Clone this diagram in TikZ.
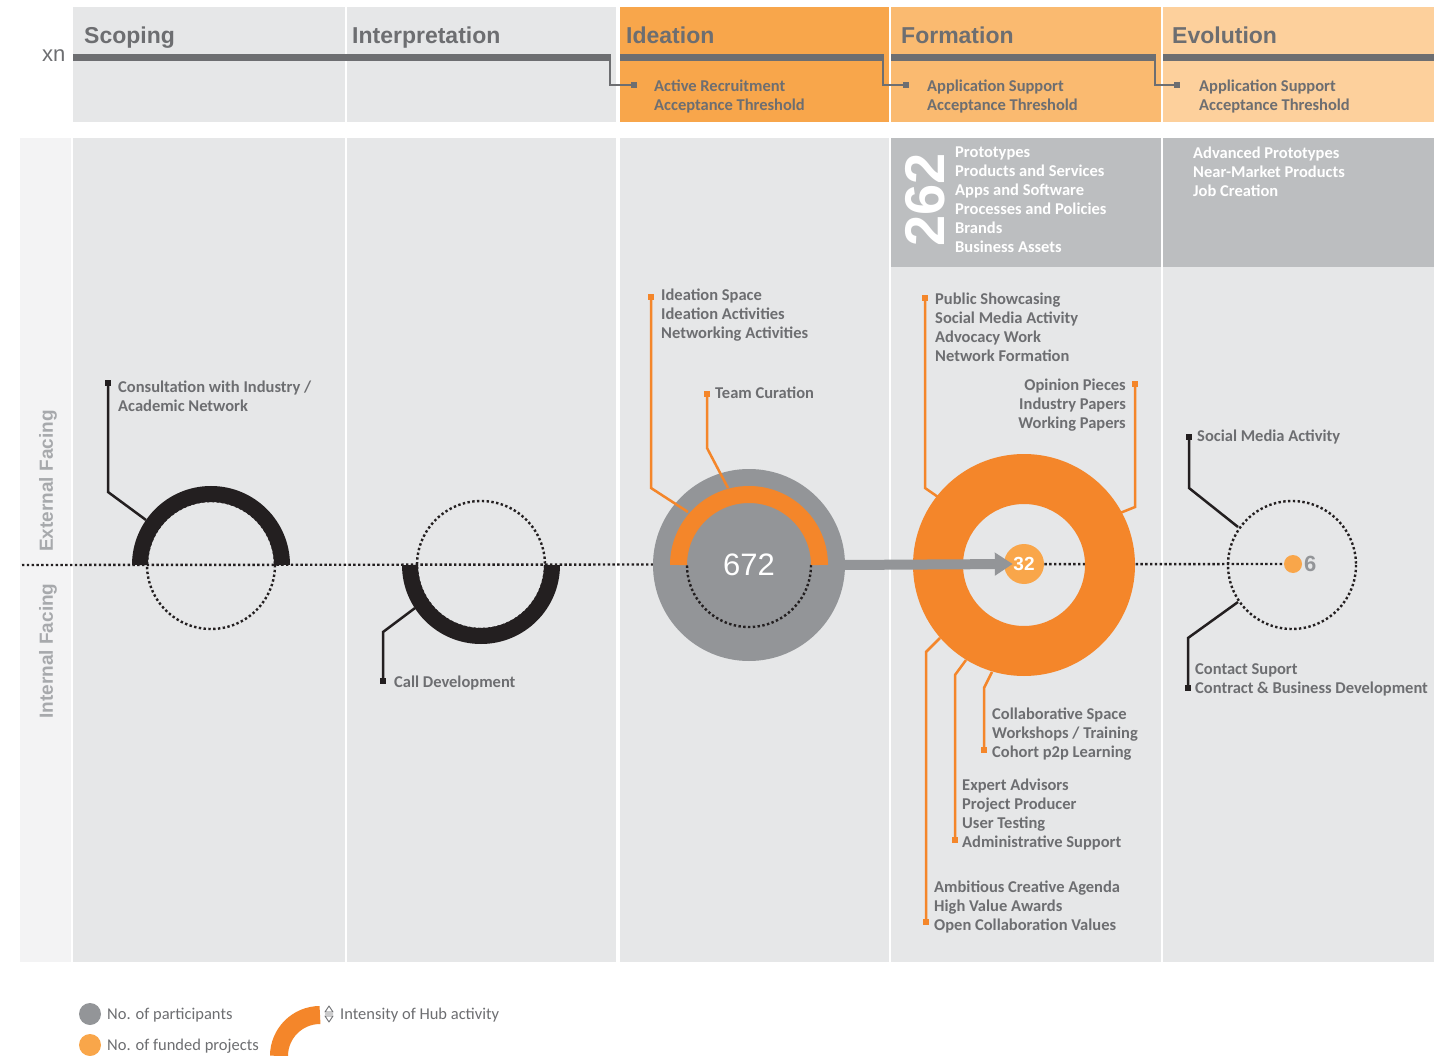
\documentclass[tikz,border=0pt]{standalone}
\usepackage{fontspec}
\setmainfont{Carlito}
\newfontfamily\hfont{Liberation Sans}
\usetikzlibrary{arrows.meta,calc}
\definecolor{tg}{HTML}{6D6E71}
\definecolor{lgc}{HTML}{E6E7E8}
\definecolor{lc}{HTML}{F3F3F4}
\definecolor{bgc}{HTML}{BCBEC0}
\definecolor{mg}{HTML}{939598}
\definecolor{og}{HTML}{F4862A}
\definecolor{od}{HTML}{F9A64A}
\definecolor{hI}{HTML}{F8A64B}
\definecolor{hF}{HTML}{FABA70}
\definecolor{hE}{HTML}{FDD09C}
\definecolor{bk}{HTML}{231F20}
\definecolor{vl}{HTML}{A7A9AC}
\begin{document}
\begin{tikzpicture}[x=1pt,y=-1pt,
  lbl/.style={font=\fontsize{16.5}{19}\selectfont\bfseries, text=tg, align=left, inner sep=0pt, anchor=north west},
  rlbl/.style={lbl, align=right, anchor=north east},
  wl/.style={lbl, text=white},
  ttl/.style={font=\hfont\fontsize{23}{27}\selectfont\bfseries, text=tg, inner sep=0pt, anchor=base west},
  side/.style={font=\hfont\fontsize{19}{22}\selectfont\bfseries, text=vl, rotate=90, inner sep=0pt},
  legtxt/.style={font=\fontsize{16.5}{19}\selectfont, text=tg, inner sep=0pt, anchor=west},
  conn/.style={draw=bk, line width=2.5pt},
  oconn/.style={draw=og, line width=2.5pt},
  hlink/.style={draw=tg, line width=2pt},
  mk/.style={fill=bk, minimum size=6pt, inner sep=0pt},
  omk/.style={fill=og, minimum size=6pt, inner sep=0pt},
  hmk/.style={fill=tg, minimum size=6pt, inner sep=0pt},
  dots/.style={draw=bk, line width=2.4pt, dash pattern=on 2.4pt off 2.4pt},
  bar/.style={draw=tg, line width=7pt},
  halfarc/.style={line width=16pt},
]
\useasboundingbox (0,0) rectangle (1446,1056);
\fill[white] (0,0) rectangle (1446,1056);
% ---------- header row
\fill[lgc] (73,7) rectangle (345,122);
\fill[lgc] (347,7) rectangle (616,122);
\fill[hI] (620,7) rectangle (889,122);
\fill[hF] (891,7) rectangle (1161,122);
\fill[hE] (1163,7) rectangle (1434,122);
% ---------- body columns
\fill[lc] (20,138) rectangle (71,962);
\fill[lgc] (73,138) rectangle (345,962);
\fill[lgc] (347,138) rectangle (616,962);
\fill[lgc] (620,138) rectangle (889,962);
\fill[lgc] (891,138) rectangle (1161,962);
\fill[lgc] (1163,138) rectangle (1434,962);
\fill[bgc] (891,138) rectangle (1161,267);
\fill[bgc] (1163,138) rectangle (1434,267);
% ---------- header titles and bars
\node[font=\hfont\fontsize{22}{26}\selectfont, text=tg, inner sep=0pt, anchor=base west] (xn) at (42,62) {xn};
\node[ttl] (tS) at (84,44) {Scoping};
\node[ttl] (tI) at (352,44) {Interpretation};
\node[ttl] (tD) at (626,44) {Ideation};
\node[ttl] (tF) at (901,44) {Formation};
\node[ttl] (tE) at (1172,44) {Evolution};
\draw[bar] (73,57.5) -- (611,57.5);
\draw[bar] (620,57.5) -- (884,57.5);
\draw[bar] (891,57.5) -- (1156,57.5);
\draw[bar] (1163,57.5) -- (1434,57.5);
\node[hmk] (hm1) at (634,85) {};
\node[hmk] (hm2) at (906,85) {};
\node[hmk] (hm3) at (1177,85) {};
\coordinate (hb1) at (610,58);
\coordinate (hb2) at (883,58);
\coordinate (hb3) at (1155,58);
\draw[hlink] (hb1) |- (hm1);
\draw[hlink] (hb2) |- (hm2);
\draw[hlink] (hb3) |- (hm3);
\node[lbl] (h1) at (654,80) {Active Recruitment\\Acceptance Threshold};
\node[lbl] (h2) at (927,80) {Application Support\\Acceptance Threshold};
\node[lbl] (h3) at (1199,80) {Application Support\\Acceptance Threshold};
% ---------- side labels
\node[side] (ext) at (48,481) {External Facing};
\node[side] (int) at (48,651) {Internal Facing};
% ---------- output boxes
\node[font=\hfont\fontsize{56}{60}\selectfont\bfseries, text=white, rotate=90, inner sep=0pt] (n262) at (925,200) {262};
\node[wl] (o1) at (955,147) {Prototypes\\Products and Services\\Apps and Software\\Processes and Policies\\Brands\\Business Assets};
\node[wl] (o2) at (1193,147) {Advanced Prototypes\\Near-Market Products\\Job Creation};
% ---------- centres
\coordinate (cS) at (211,565);
\coordinate (cI) at (481,565);
\coordinate (cF) at (1024,565);
\coordinate (cE) at (1292,565);
\coordinate (lstart) at (22,565);
% evolution dot first, so the axis can end on it
\node[circle, fill=od, minimum size=18pt, inner sep=0pt] (d6) at (1293,564) {};
\node[font=\hfont\fontsize{22}{24}\selectfont\bfseries, text=mg, inner sep=0pt, anchor=west] (t6) at (1304,564) {6};
% axis
\draw[dots] (lstart) -- (d6.west);
% Scoping
\draw[dots] (cS) circle (64);
\draw[bk, halfarc] ($(cS)+(180:71)$) arc[start angle=180, end angle=360, radius=71];
% Interpretation
\draw[dots] (cI) circle (64);
\draw[bk, halfarc] ($(cI)+(0:71)$) arc[start angle=0, end angle=180, radius=71];
% Ideation
\node[circle, fill=mg, minimum size=192pt, inner sep=0pt, text=white, font=\hfont\fontsize{31}{34}\selectfont] (gD) at (749,565) {672};
\draw[dots] ([shift={(0:62)}]gD.center) arc[start angle=0, end angle=180, radius=62];
\draw[og, line width=17pt] ([shift={(180:70.5)}]gD.center) arc[start angle=180, end angle=360, radius=70.5];
% Formation
\fill[og, even odd rule] (cF) circle (111) circle (61);
\node[circle, fill=od, minimum size=40pt, inner sep=0pt, text=white, font=\hfont\fontsize{19}{21}\selectfont\bfseries] (n32) at (1024,564) {32};
\draw[mg, line width=10pt, -{Triangle[length=18pt,width=22pt]}] ([xshift=-4pt]gD.east) -- ([xshift=9pt]n32.west);
% Evolution
\draw[dots] (cE) circle (64);
% ---------- connectors and labels
% Scoping
\node[mk] (mS) at (108,383) {};
\coordinate (aS) at (146,520);
\draw[conn] (mS.center) -- (108,492) -- (aS);
\node[lbl] (lS) at (118,381) {Consultation with Industry /\\Academic Network};
% Interpretation
\node[mk] (mI) at (383,681) {};
\coordinate (aI) at (415,608);
\draw[conn] (mI.center) -- (383,632) -- (aI);
\node[lbl] (lI) at (394,676) {Call Development};
% Ideation
\node[omk] (mD1) at (651,297) {};
\coordinate (aD1) at (688,512);
\draw[oconn] (mD1.center) -- (651,488) -- (aD1);
\node[lbl] (lD1) at (661,289) {Ideation Space\\Ideation Activities\\Networking Activities};
\node[omk] (mD2) at (707,394) {};
\coordinate (aD2) at (728,488);
\draw[oconn] (mD2.center) -- (707,448) -- (aD2);
\node[lbl] (lD2) at (715,387) {Team Curation};
% Formation
\node[omk] (mF1) at (925,298) {};
\coordinate (aF1) at (938,497);
\draw[oconn] (mF1.center) -- (925,488) -- (aF1);
\node[lbl] (lF1) at (935,293) {Public Showcasing\\Social Media Activity\\Advocacy Work\\Network Formation};
\node[omk] (mF2) at (1135,384) {};
\coordinate (aF2) at (1120,513);
\draw[oconn] (mF2.center) -- (1135,507) -- (aF2);
\node[rlbl] (lF2) at (1126,379) {Opinion Pieces\\Industry Papers\\Working Papers};
\node[omk] (mF3) at (984,750) {};
\coordinate (aF3) at (992,672);
\draw[oconn] (mF3.center) -- (984,688) -- (aF3);
\node[lbl] (lF3) at (992,708) {Collaborative Space\\Workshops / Training\\Cohort p2p Learning};
\node[omk] (mF4) at (955,840) {};
\coordinate (aF4) at (966,660);
\draw[oconn] (mF4.center) -- (955,675) -- (aF4);
\node[lbl] (lF4) at (962,779) {Expert Advisors\\Project Producer\\User Testing\\Administrative Support};
\node[omk] (mF5) at (926,922) {};
\coordinate (aF5) at (940,638);
\draw[oconn] (mF5.center) -- (926,652) -- (aF5);
\node[lbl] (lF5) at (934,881) {Ambitious Creative Agenda\\High Value Awards\\Open Collaboration Values};
% Evolution
\node[mk] (mE1) at (1189,437) {};
\coordinate (aE1) at (1238,527);
\draw[conn] (mE1.center) -- (1189,488) -- (aE1);
\node[lbl] (lE1) at (1197,430) {Social Media Activity};
\node[mk] (mE2) at (1188,688) {};
\coordinate (aE2) at (1238,602);
\draw[conn] (mE2.center) -- (1188,638) -- (aE2);
\node[lbl] (lE2) at (1195,663) {Contact Suport\\Contract \& Business Development};
% ---------- legend
\node[circle, fill=mg, minimum size=22pt, inner sep=0pt] (lg1) at (90,1014) {};
\node[legtxt] (lt1) at (107,1015) {No. of participants};
\node[circle, fill=od, minimum size=22pt, inner sep=0pt] (lg2) at (90,1045) {};
\node[legtxt] (lt2) at (107,1046) {No. of funded projects};
\coordinate (lgc) at (320,1056);
\draw[og, line width=18pt] ([shift={(180:41)}]lgc) arc[start angle=180, end angle=270, radius=41];
\coordinate (sym) at (329,1014);
\draw[tg, line width=0.9pt, line join=round] ($(sym)+(-4,-2)$) -- ($(sym)+(0,-8)$) -- ($(sym)+(4,-2)$) -- cycle
  ($(sym)+(-4,0)$) -- ($(sym)+(4,0)$)
  ($(sym)+(-4,2)$) -- ($(sym)+(0,8)$) -- ($(sym)+(4,2)$) -- cycle;
\node[legtxt] (lt3) at (340,1015) {Intensity of Hub activity};
\end{tikzpicture}
\end{document}
